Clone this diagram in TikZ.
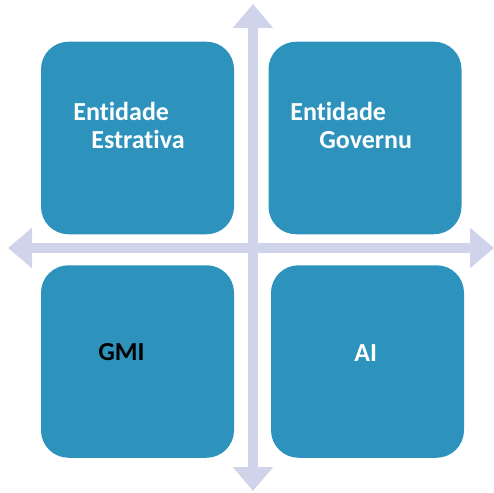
\documentclass[tikz,border=0pt]{standalone}
\usepackage{fontspec}
\setmainfont[Ligatures=NoCommon]{Carlito}
\usetikzlibrary{arrows.meta}
\definecolor{quadblue}{HTML}{2D93BD}
\definecolor{axislav}{HTML}{D0D4EA}
\tikzset{
  quad/.style={fill=quadblue,rounded corners=0.55cm,minimum width=3.86cm,minimum height=3.85cm,inner sep=0pt},
  axis/.style={axislav,line width=0.2cm,{Triangle[width=0.78cm,length=0.48cm]}-{Triangle[width=0.78cm,length=0.48cm]}},
  qtext/.style={anchor=base west,inner sep=0pt,font=\fontsize{14.8}{16}\selectfont\bfseries}
}
\begin{document}
\begin{tikzpicture} 
\useasboundingbox (0,0) rectangle (9.88,9.84); 
\coordinate (W) at (0.16,4.88); 
\coordinate (E) at (9.88,4.88); 
\coordinate (N) at (5.06,9.76); 
\coordinate (S) at (5.06,0.02); 
\draw[axis] (W) -- (E); 
\draw[axis] (S) -- (N); 
\node[quad] (q1) at (2.75,7.08) {}; 
\node[quad] (q2) at (7.30,7.08) {}; 
\node[quad] (q3) at (2.75,2.61) {}; 
\node[quad] (q4) at (7.35,2.61) {}; 
\node[qtext,white] (q1a) at (1.46,7.42) {Entidade}; 
\node[qtext,white] (q1b) at (1.82,6.86) {Estrativa}; 
\node[qtext,white] (q2a) at (5.80,7.42) {Entidade}; 
\node[qtext,white] (q2b) at (6.38,6.86) {Governu}; 
\node[qtext,black] (q3a) at (1.96,2.64) {GMI}; 
\node[qtext,white] (q4a) at (7.08,2.62) {AI}; 
\end{tikzpicture}
\end{document}
